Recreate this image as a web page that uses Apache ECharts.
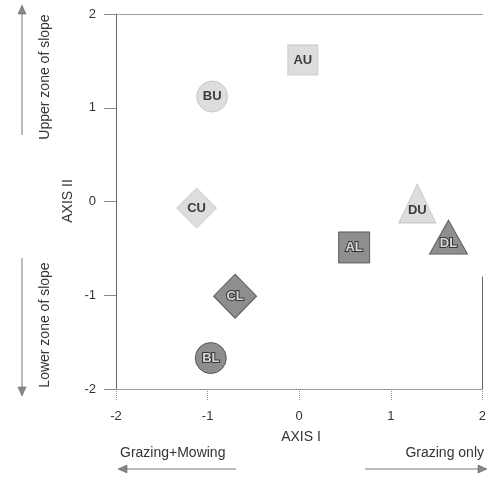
<!DOCTYPE html>
<html><head><meta charset="utf-8">
<script src="https://cdn.jsdelivr.net/npm/echarts@6/dist/echarts.min.js"></script>
<style>html,body{margin:0;padding:0;background:#fff}#c{width:489px;height:480px}</style>
</head><body><div id="c"></div>
<script>
var labels = ['AU','BU','CU','DU','AL','BL','CL','DL'];
var axis1 = [0.04, -0.95, -1.12, 1.29, 0.60, -0.965, -0.70, 1.63];
var axis2 = [1.51, 1.12, -0.07, -0.02, -0.49, -1.67, -1.01, -0.38];
var xTicks = [-2, -1, 0, 1, 2];
var yTicks = [-2, -1, 0, 1, 2];

var LIGHT = '#d4d4d4', DARK = '#727272';
var styles = {
  AU: {symbol:'rect', size:[30,30], color:LIGHT},
  BU: {symbol:'circle', size:31, color:LIGHT},
  CU: {symbol:'diamond', size:[40,40], color:LIGHT},
  DU: {symbol:'triangle', size:[37,39], color:LIGHT, off:[0,7]},
  AL: {symbol:'rect', size:[31,31], color:DARK},
  BL: {symbol:'circle', size:31, color:DARK},
  CL: {symbol:'diamond', size:[43,44], color:DARK},
  DL: {symbol:'triangle', size:[38,34], color:DARK, off:[0,6]}
};
var F = 'Liberation Sans, Arial, sans-serif';
var data = labels.map(function(l, i){
  var s = styles[l], dark = s.color === DARK;
  return {
    value:[axis1[i], axis2[i]], name:l,
    symbol:s.symbol, symbolSize:s.size,
    itemStyle:{color:s.color, borderColor: dark ? '#444' : '#c0c0c0', borderWidth:1},
    label:{show:true, formatter:l, fontWeight:'bold', fontSize:13, fontFamily:F,
      color: dark ? '#fff' : '#111', textBorderColor: dark ? '#222' : 'transparent', textBorderWidth: dark ? 2 : 0,
      offset: s.off || [0,0]}
  };
});

function arrow(x1,y1,x2,y2){
  var dx = x2-x1, dy = y2-y1, L = Math.sqrt(dx*dx+dy*dy), ux = dx/L, uy = dy/L;
  var bx = x2 - ux*9, by = y2 - uy*9;
  return [
    {type:'line', shape:{x1:x1,y1:y1,x2:bx,y2:by}, style:{stroke:'#777', lineWidth:1}},
    {type:'polygon', shape:{points:[[x2,y2],[bx - uy*4, by + ux*4],[bx + uy*4, by - ux*4]]}, style:{fill:'#888', stroke:'#555', lineWidth:0.5}}
  ];
}
var T = '14px ' + F;
var graphics = [
  {type:'text', x:301, y:437, style:{text:'AXIS I', font:T, fill:'#333', textAlign:'center', textVerticalAlign:'middle'}},
  {type:'text', x:68, y:201, rotation:Math.PI/2, style:{text:'AXIS II', font:T, fill:'#333', textAlign:'center', textVerticalAlign:'middle'}},
  {type:'text', x:45, y:77, rotation:Math.PI/2, style:{text:'Upper zone of slope', font:T, fill:'#333', textAlign:'center', textVerticalAlign:'middle'}},
  {type:'text', x:45, y:325, rotation:Math.PI/2, style:{text:'Lower zone of slope', font:T, fill:'#333', textAlign:'center', textVerticalAlign:'middle'}},
  {type:'text', x:120, y:453, style:{text:'Grazing+Mowing', font:T, fill:'#333', textAlign:'left', textVerticalAlign:'middle'}},
  {type:'text', x:484, y:453, style:{text:'Grazing only', font:T, fill:'#333', textAlign:'right', textVerticalAlign:'middle'}}
].concat(arrow(22,135,22,5), arrow(22,258,22,396), arrow(236,469,118,469), arrow(365,469,487,469));

var chart = echarts.init(document.getElementById('c'));
chart.setOption({
  animation:false,
  backgroundColor:'#fff',
  grid:{left:116, right:2, top:14, bottom:91},
  xAxis:[{
    type:'value', min:xTicks[0], max:xTicks[xTicks.length-1], interval:1, position:'bottom',
    splitLine:{show:false},
    axisLine:{show:true, onZero:false, lineStyle:{color:'#888', type:'dotted', width:1}},
    axisTick:{show:true, length:12, lineStyle:{color:'#999', type:'dotted'}},
    axisLabel:{margin:21, fontSize:13, fontFamily:F, color:'#333', showMaxLabel:true}
  },{
    type:'value', min:-2, max:2, interval:1, position:'top',
    splitLine:{show:false},
    axisLine:{show:true, onZero:false, lineStyle:{color:'#888', type:'dotted', width:1}},
    axisTick:{show:false}, axisLabel:{show:false}
  }],
  yAxis:{
    type:'value', min:yTicks[0], max:yTicks[yTicks.length-1], interval:1,
    splitLine:{show:false},
    axisLine:{show:true, onZero:false, lineStyle:{color:'#666', width:1}},
    axisTick:{show:true, length:12, lineStyle:{color:'#888'}},
    axisLabel:{margin:20, fontSize:13, fontFamily:F, color:'#333'}
  },
  series:[{
    type:'scatter', data:data,
    markLine:{silent:true, symbol:'none', label:{show:false},
      lineStyle:{color:'#666', type:'solid', width:1},
      data:[[{coord:[2,-0.8]},{coord:[2,-2]}]]}
  }],
  graphic:graphics
});
</script></body></html>
